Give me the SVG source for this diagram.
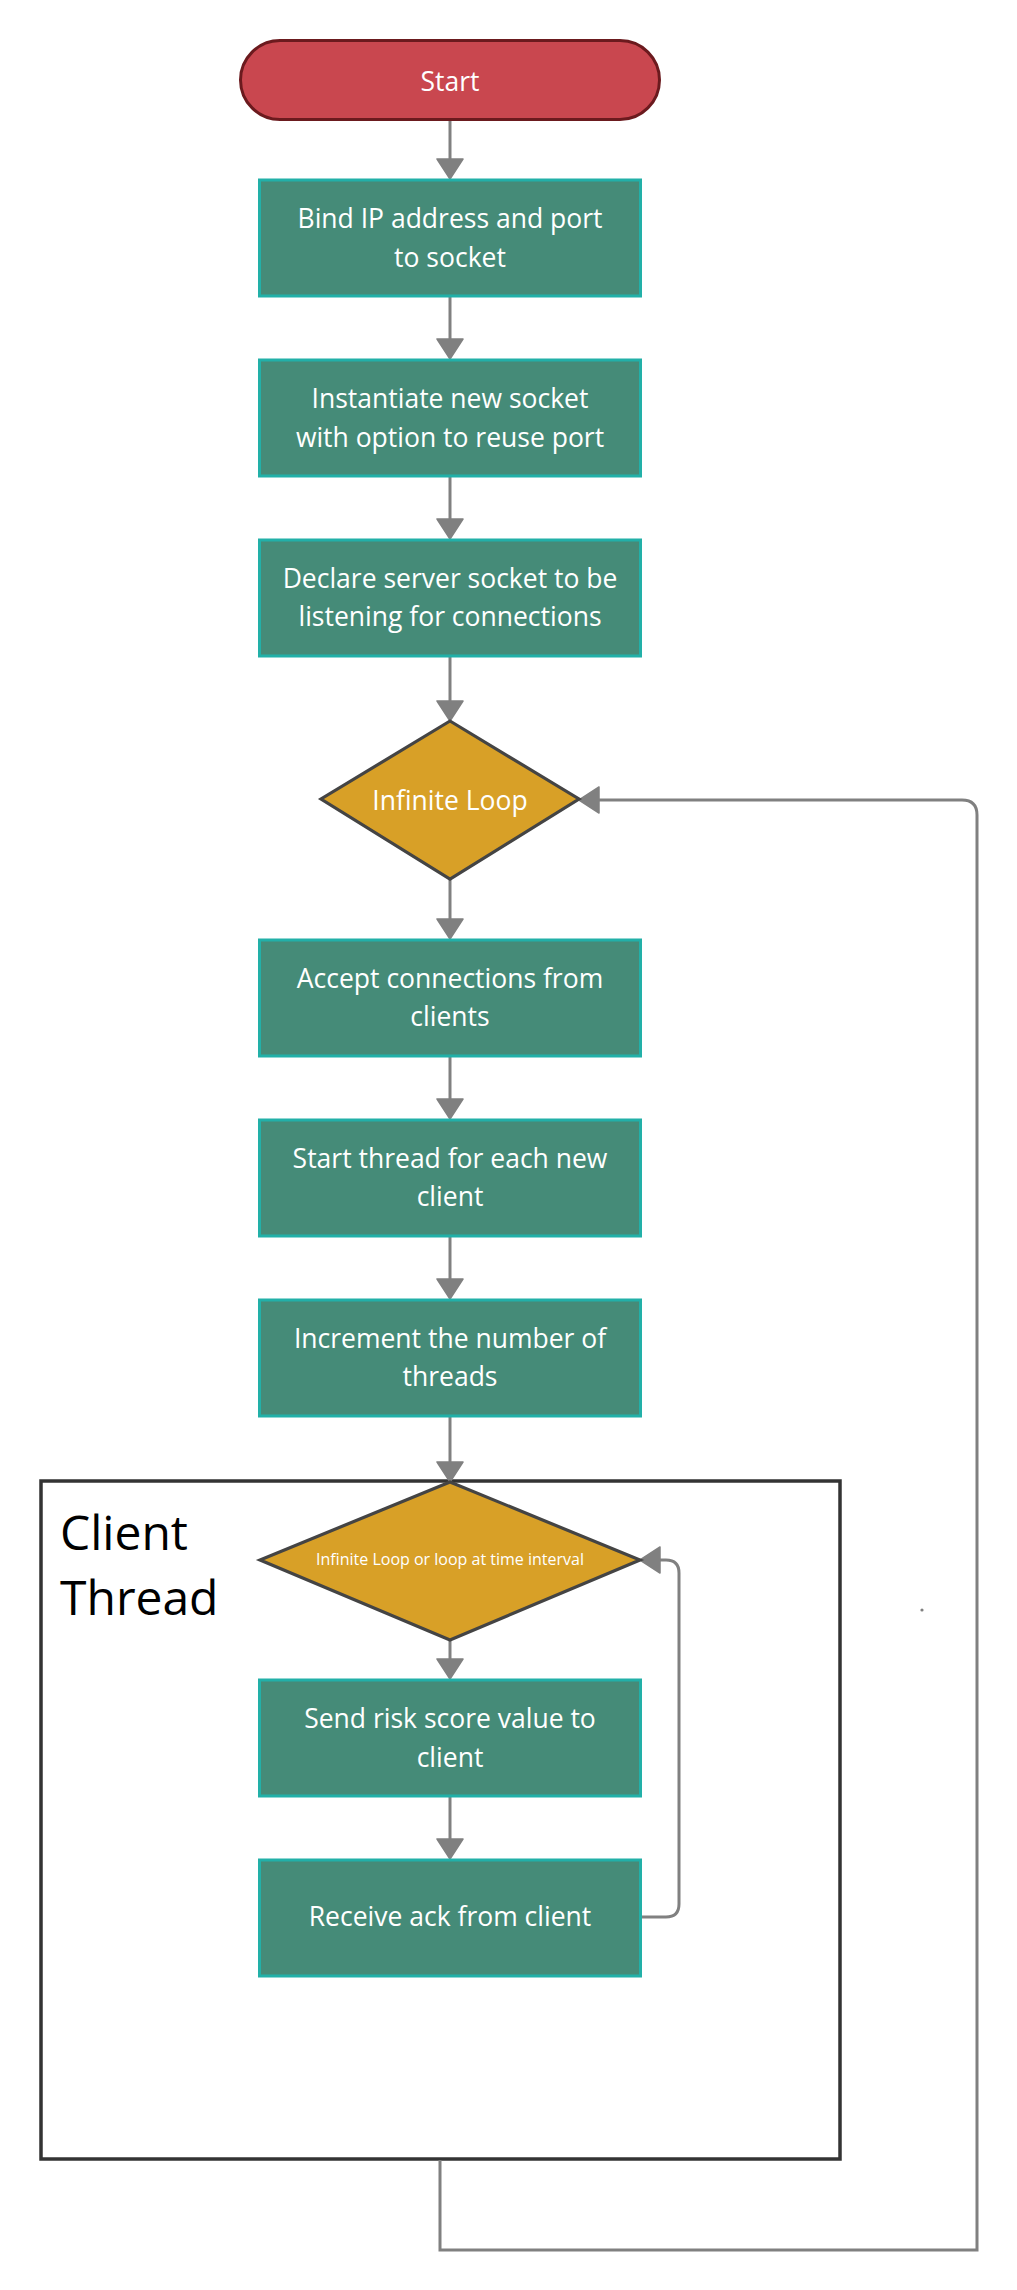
<svg xmlns="http://www.w3.org/2000/svg" width="1017" height="2290" viewBox="0 0 1017 2290">
  <style>
    .box { fill: #458b78; stroke: #22b0a8; stroke-width: 3; }
    .dia { fill: #d8a027; stroke: #444444; stroke-width: 3.2; stroke-linejoin: miter; }
    .lbl { font-family: "Open Sans", "Noto Sans", "DejaVu Sans", sans-serif; font-size: 26.5px; fill: #ffffff; text-anchor: middle; }
    .small { font-size: 16px; }
    .conn { fill: none; stroke: #808080; stroke-width: 3; }
    .title { font-family: "Open Sans", "Noto Sans", "DejaVu Sans", sans-serif; font-size: 48px; fill: #000000; }
  </style>
  <defs>
    <marker id="arr" viewBox="0 0 20 26" refX="15" refY="13" markerWidth="20" markerHeight="26" markerUnits="userSpaceOnUse" orient="auto" overflow="visible">
      <path d="M0,0 L20,13 L0,26 Z" fill="#808080" stroke="#808080" stroke-width="1.5" stroke-linejoin="round"/>
    </marker>
  </defs>
  <rect width="1017" height="2290" fill="#ffffff"/>

  <g id="client-thread">
    <rect x="41" y="1481" width="799" height="678" fill="none" stroke="#333333" stroke-width="3.5"/>
    <text class="title" x="60" y="1550">Client</text>
    <text class="title" x="60" y="1615">Thread</text>
  </g>

  <g id="connectors">
    <path class="conn" d="M450,120 V174" marker-end="url(#arr)"/>
    <path class="conn" d="M450,297 V354" marker-end="url(#arr)"/>
    <path class="conn" d="M450,476 V534" marker-end="url(#arr)"/>
    <path class="conn" d="M450,656 V716" marker-end="url(#arr)"/>
    <path class="conn" d="M450,879 V934" marker-end="url(#arr)"/>
    <path class="conn" d="M450,1056 V1114" marker-end="url(#arr)"/>
    <path class="conn" d="M450,1236 V1294" marker-end="url(#arr)"/>
    <path class="conn" d="M450,1416 V1477" marker-end="url(#arr)"/>
    <path class="conn" d="M450,1640 V1674" marker-end="url(#arr)"/>
    <path class="conn" d="M450,1796 V1854" marker-end="url(#arr)"/>
    <path class="conn" d="M641,1917 H666 Q679,1917 679,1904 V1573 Q679,1560 666,1560 H645" marker-end="url(#arr)"/>
    <path class="conn" d="M440,2160 V2250 H977 V815 Q977,800 962,800 H584" marker-end="url(#arr)"/>
    <circle cx="922" cy="1610" r="1.6" fill="#808080"/>
  </g>

  <g id="start">
    <rect x="240.5" y="40.5" width="419" height="79" rx="39.5" fill="#c9474f" stroke="#6b1a1e" stroke-width="3"/>
    <text class="lbl" x="450" y="91">Start</text>
  </g>

  <g id="bind">
    <rect class="box" x="259.5" y="180" width="381" height="116"/>
    <text class="lbl" x="450" y="228">Bind IP address and port</text>
    <text class="lbl" x="450" y="267">to socket</text>
  </g>

  <g id="instantiate">
    <rect class="box" x="259.5" y="360" width="381" height="116"/>
    <text class="lbl" x="450" y="408">Instantiate new socket</text>
    <text class="lbl" x="450" y="447">with option to reuse port</text>
  </g>

  <g id="listen">
    <rect class="box" x="259.5" y="540" width="381" height="116"/>
    <text class="lbl" x="450" y="588">Declare server socket to be</text>
    <text class="lbl" x="450" y="626">listening for connections</text>
  </g>

  <g id="loop1">
    <polygon class="dia" points="450,721 579,799 450,879 321,799"/>
    <text class="lbl" x="450" y="810">Infinite Loop</text>
  </g>

  <g id="accept">
    <rect class="box" x="259.5" y="940" width="381" height="116"/>
    <text class="lbl" x="450" y="988">Accept connections from</text>
    <text class="lbl" x="450" y="1026">clients</text>
  </g>

  <g id="start-thread">
    <rect class="box" x="259.5" y="1120" width="381" height="116"/>
    <text class="lbl" x="450" y="1168">Start thread for each new</text>
    <text class="lbl" x="450" y="1206">client</text>
  </g>

  <g id="increment">
    <rect class="box" x="259.5" y="1300" width="381" height="116"/>
    <text class="lbl" x="450" y="1348">Increment the number of</text>
    <text class="lbl" x="450" y="1386">threads</text>
  </g>

  <g id="loop2">
    <polygon class="dia" points="450,1482 640,1560 450,1640 260,1560"/>
    <text class="lbl small" x="450" y="1565">Infinite Loop or loop at time interval</text>
  </g>

  <g id="send">
    <rect class="box" x="259.5" y="1680" width="381" height="116"/>
    <text class="lbl" x="450" y="1728">Send risk score value to</text>
    <text class="lbl" x="450" y="1767">client</text>
  </g>

  <g id="receive">
    <rect class="box" x="259.5" y="1860" width="381" height="116"/>
    <text class="lbl" x="450" y="1926">Receive ack from client</text>
  </g>
</svg>
